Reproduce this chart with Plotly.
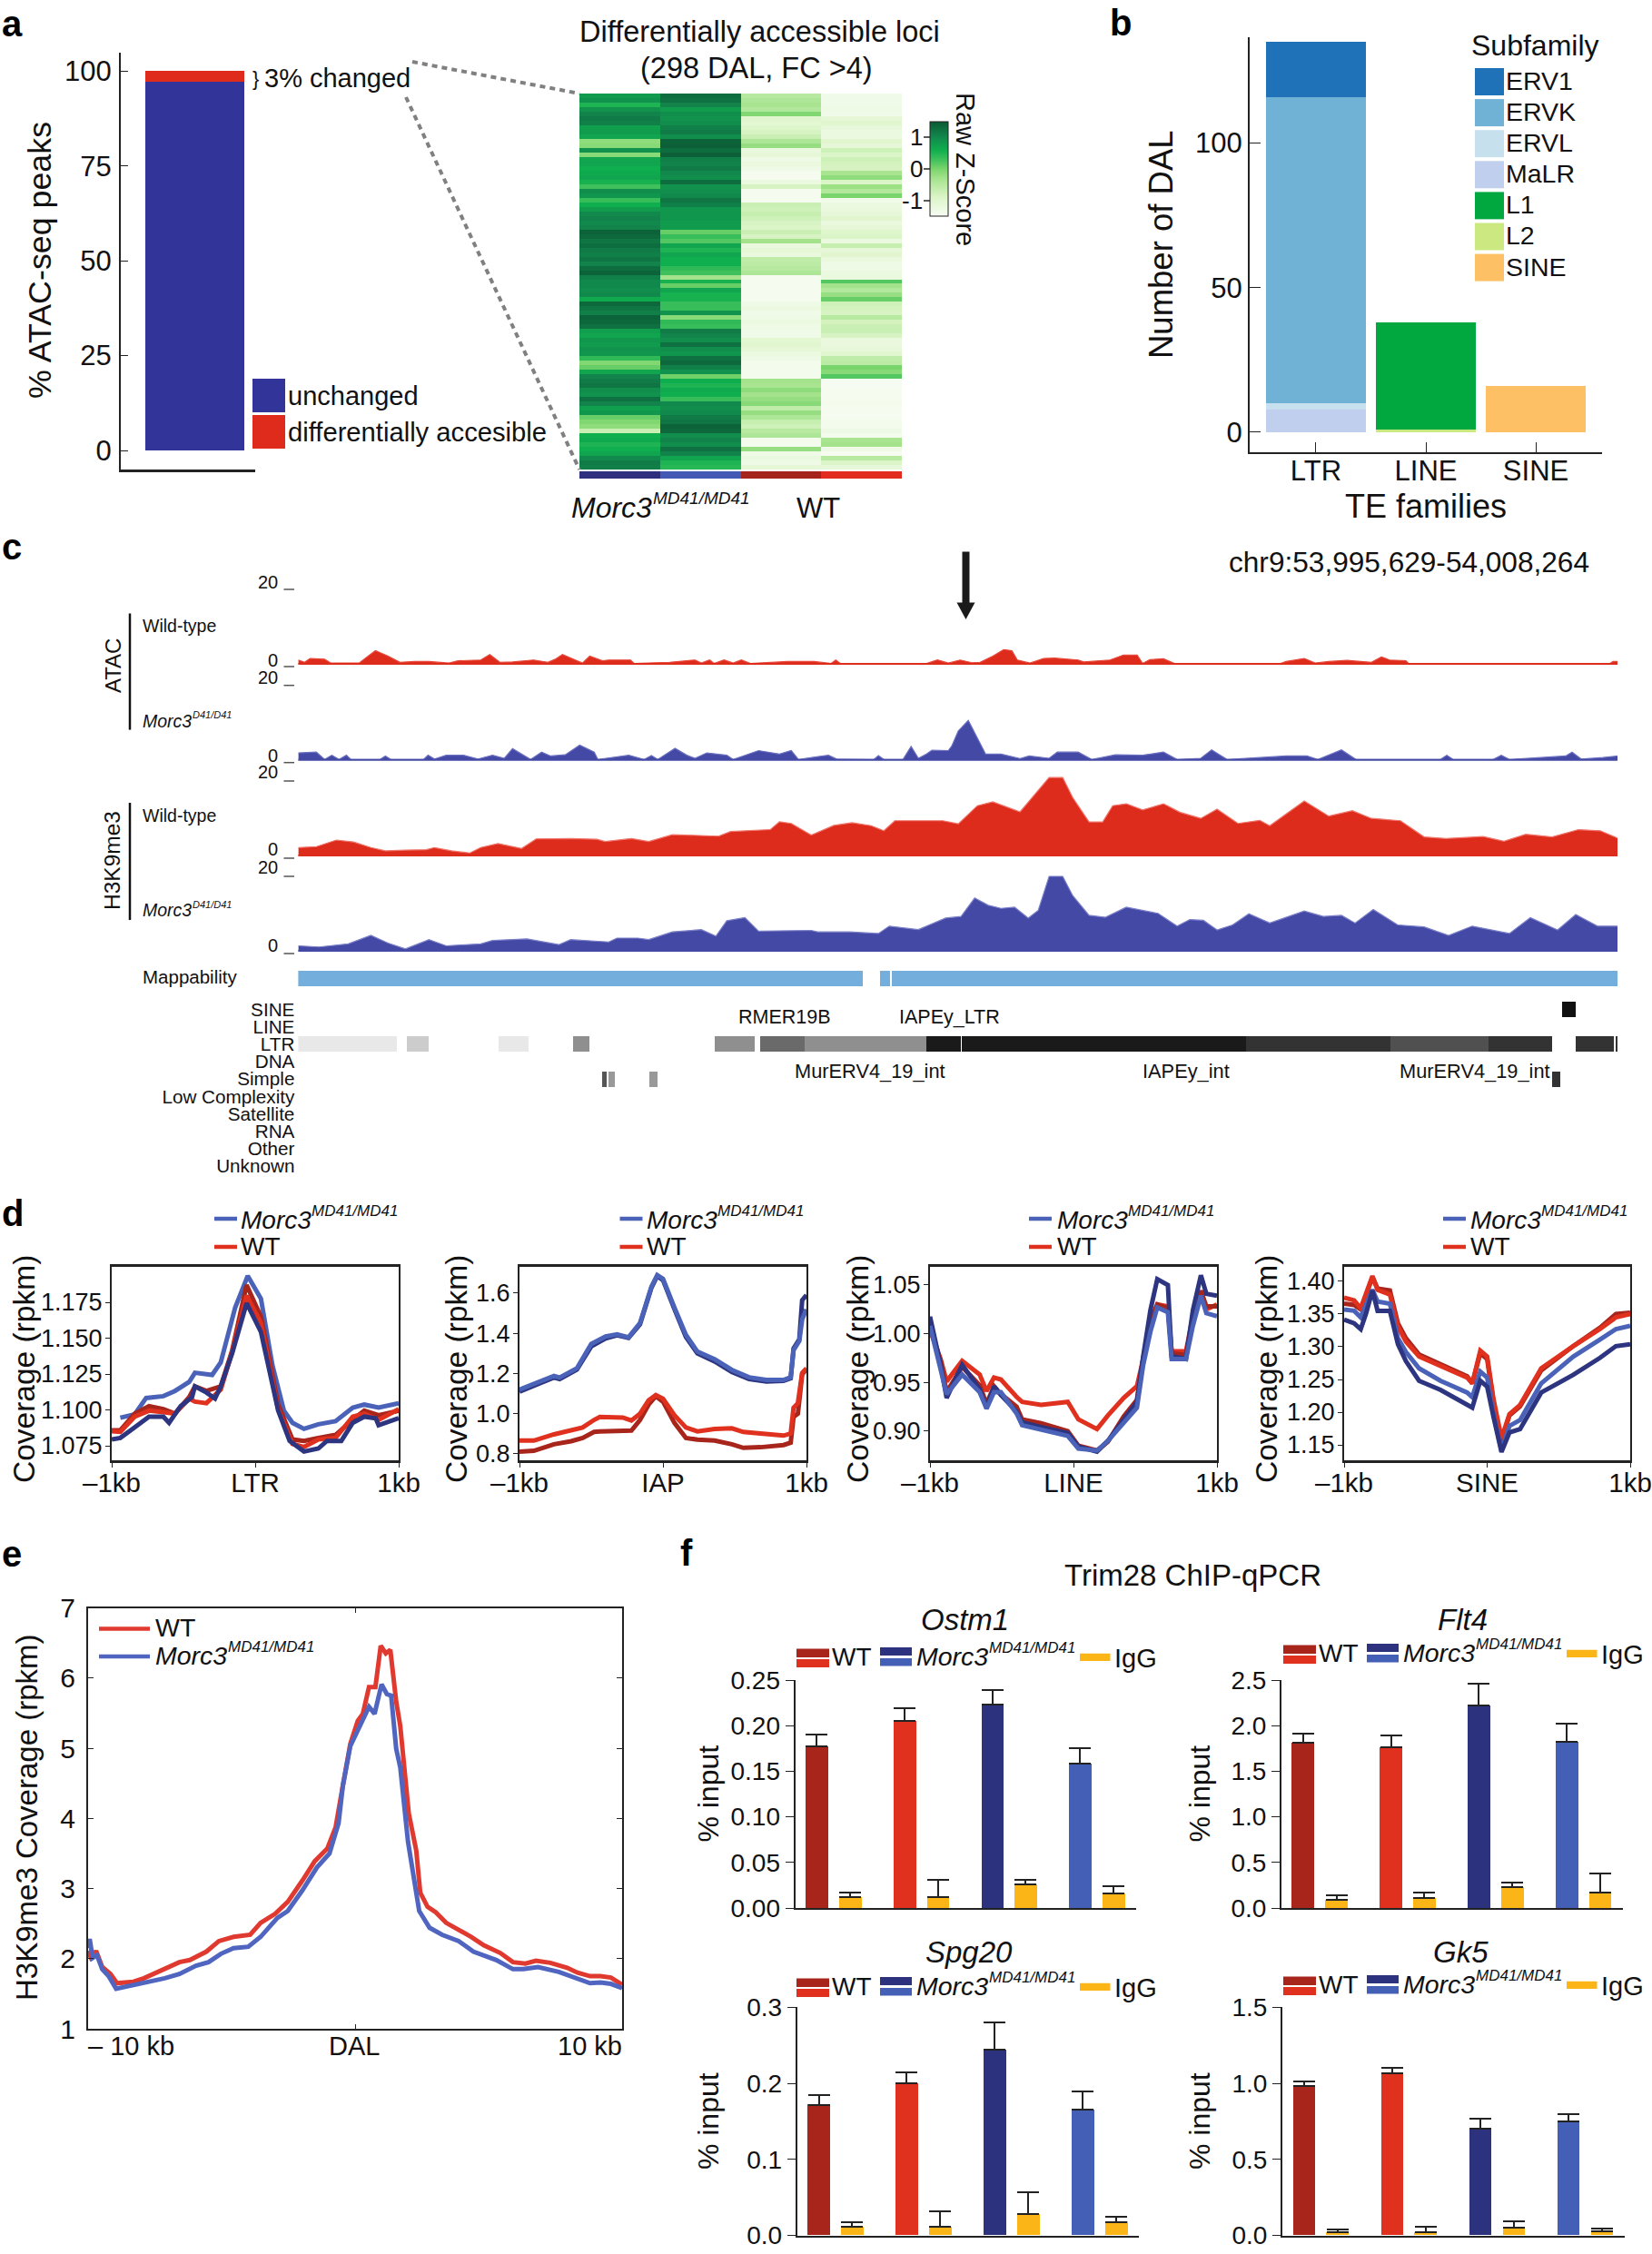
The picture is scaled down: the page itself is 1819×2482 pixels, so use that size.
import plotly.graph_objects as go

W, H = 1819, 2482
FONT = "Liberation Sans, Arial, sans-serif"

# ---------- data: panel a ----------
STACK_SEGMENTS = ["unchanged", "differentially accesible"]
STACK_VALUES = [97.2, 2.8]
HEAT_SAMPLES = ["Morc3 1", "Morc3 2", "WT 1", "WT 2"]
HEAT_MORC_1 = [.8,.9,.5,.9,1.05,1.15,1.1,.75,.8,.7,-.15,-.1,.9,-.1,.7,.7,.6,.65,.7,.55,.3,.95,.85,.35,.6,.8,1.0,1.05,1.0,1.05,1.4,1.35,1.2,1.3,1.15,1.1,1.2,1.05,1.3,1.4,1.1,1.0,
               1.0,.95,1.0,.65,1.35,1.2,1.1,1.4,1.35,1.25,.75,.7,.85,.8,.9,.85,.4,-.05,.1,.7,1.05,1.15,1.2,.95,.9,1.25,1.05,.75,.85,.1,-.05,-.15,-.7,.6,.65,.5,.6,.7,1.0,1.15,1.1]
HEAT_MORC_2 = [1.3,1.25,1.05,.8,.95,.9,.95,1.1,1.15,.95,1.4,1.45,1.3,1.45,1.1,1.05,1.15,1.0,.95,1.3,.9,.95,1.0,1.2,1.1,.85,.85,.85,.8,.8,.1,.35,.2,.7,.5,.7,.6,.6,.4,.3,-.3,.55,
               .1,.7,.55,.55,.35,.35,.9,-.1,.4,.35,1.15,1.05,.95,1.25,.95,.85,1.25,1.35,1.1,.9,.05,.6,.5,.65,.6,.35,1.0,.95,1.0,1.15,1.2,1.4,1.35,.95,1.05,.95,1.25,1.05,.7,.5,.45]
HEAT_WT_1 = [-.5,-.4,-.35,-.45,-.05,-1,-1.05,-.95,-.85,-.7,-.4,-.2,-1.2,-1.1,-1.3,-1.2,-1.3,-1.45,-1.45,-1.25,-.85,-1.45,-1.45,-1.45,-.7,-.75,-.65,-.75,-.85,-.9,-.7,-.85,-.3,-1.2,-1.1,-1.2,-.6,-.55,-.5,-.4,-1.45,-1.45,
             -1.45,-1.45,-1.45,-1.45,-1.3,-1.25,-1.35,-1.3,-1.25,-1.3,-1.35,-1.35,-1.05,-1.0,-1.1,-1.25,-1.3,-1.4,-1.4,-1.4,-1.4,-.3,-.35,-.15,-.3,-.2,-.1,-.6,-.2,-.4,-.65,-.75,-.5,-.4,-1.4,-1.4,-.2,-1.3,-1.25,-1.3,-1.1]
HEAT_WT_2 = [-1.35,-1.35,-1.35,-1.3,-1.35,-1.1,-1.0,-1.15,-1.25,-1.25,-1,-1.1,-.75,-.9,-.75,-.8,-.85,-.35,-.15,-.9,-.25,-.45,0,-1.35,-1.25,-1.2,-1.15,-1,-1.2,-1.1,-.95,-.9,-1.25,-.65,-1.1,-1,-1.2,-1.3,-1.3,-1.25,-1.2,.2,
             -.3,-.45,-.2,.1,-.75,-.8,-.85,-.5,-.8,-.7,-.7,-.85,-1.2,-1.2,-1.15,-1.0,-.6,-.55,0,-.1,.2,-1.5,-1.5,-1.45,-1.45,-1.45,-1.4,-1.45,-1.45,-1.45,-1.4,-1.4,-1.3,-1.4,-.35,-.3,-1.3,-1.45,-.5,-.9,-1.15]

# ---------- data: panel b ----------
TE_FAMILIES = ["LTR", "LINE", "SINE"]
SUBFAMILIES = ["MaLR", "ERVL", "ERVK", "ERV1", "L2", "L1", "SINE"]
SUBFAMILY_FAMILY = ["LTR", "LTR", "LTR", "LTR", "LINE", "LINE", "SINE"]
SUBFAMILY_COUNTS = [7.8, 2.2, 106, 19, 1, 37, 16]
LEGEND_SUBFAMILIES = ["ERV1", "ERVK", "ERVL", "MaLR", "L1", "L2", "SINE"]

# ---------- data: panel c ----------
ATAC_WT_X = [0,7,13,29,36,67,74,85,99,112,128,144,166,176,201,211,222,236,259,275,283,291,307,313,321,335,342,366,370,409,437,444,453,458,469,479,488,498,539,568,587,592,597,672,692,704,716,729,742,751,765,777,786,792,806,821,833,859,865,894,909,924,930,938,953,965,1082,1088,1108,1120,1135,1155,1182,1193,1202,1220,1223,1445,1448,1453]
ATAC_WT_Y = [1,.4,1.4,1.2,.2,.2,1.5,3.4,2,.4,.6,.6,.2,.8,1,2.4,.4,.5,1,.4,1.2,2.4,.8,.2,2,.8,1,1,.1,.4,1,.2,1,.1,1,.2,1,.1,.6,.6,.1,1,.1,.1,.1,1,.2,1,.3,.4,2,3.7,3.4,1,.2,1.4,1.5,1,.5,1,2.3,2.3,.1,1.1,1.3,.1,.1,.6,1.4,.2,.6,.9,.4,1.8,1,.8,.1,.1,.6,.6]
ATAC_KO_X = [0,20,29,37,45,53,58,90,96,102,138,143,150,163,182,198,214,227,236,246,256,268,278,294,310,326,330,364,381,389,396,415,428,437,450,472,479,507,530,543,551,571,584,593,634,639,645,666,675,683,692,698,716,720,727,738,748,757,774,795,805,827,836,859,874,900,930,953,968,994,1006,1023,1088,1111,1123,1149,1165,1258,1265,1272,1316,1325,1334,1363,1396,1403,1413,1437,1453]
ATAC_KO_Y = [1.8,2,.1,1.2,.1,1.2,.1,.1,1,.1,.1,1.2,.2,1.2,1.2,.2,1.2,.4,2.9,1.5,.1,2,1,1.3,3.8,2,.1,1.2,.1,1.1,.1,3,1.2,.4,1.8,1.2,.1,2.4,1.5,2.4,.1,.8,1.2,.2,.1,1.1,.1,.1,3.5,.4,1.5,2.5,2.4,3.7,7.5,10.2,5.8,1.5,1.5,.3,1,.4,2,2,.1,1.3,1.2,2,.1,.4,2.6,.1,1,1,.1,2.6,.1,.1,1.2,.1,.1,1.2,.1,.6,1,2,.2,.6,1]
H3K9_WT_X = [0,20,42,61,80,96,118,141,150,169,189,201,220,246,262,300,329,338,367,386,412,463,476,520,530,543,565,590,610,631,645,657,710,727,748,765,795,812,827,842,853,871,886,897,912,930,953,971,994,1012,1035,1059,1070,1108,1135,1161,1182,1214,1240,1264,1305,1328,1352,1381,1410,1434,1453]
H3K9_WT_Y = [2.05,2.3,4,3.5,2.05,1.2,1.4,1.5,2.05,1.2,.65,2.05,3.1,1.8,4.3,4.4,4.2,3.6,4.4,3.6,5.4,5,6.2,6.7,8.75,8.3,5.3,7.8,8.5,7.7,6.4,9,9,8.2,12.9,13.9,11.3,16.1,20.2,20.2,15,8.7,8.7,12.9,13.4,11.8,13.4,11.2,9.6,12,8.3,9.1,7.7,14.1,10.2,11.6,9.6,9,4.8,4.4,4.9,3.7,5.5,4.8,6.7,6.4,4.5]
H3K9_KO_X = [0,23,55,80,99,118,144,163,201,214,252,287,300,342,351,374,386,412,444,460,472,492,507,565,572,607,639,651,683,713,730,745,760,774,789,804,815,827,842,853,871,889,912,947,968,982,997,1012,1029,1047,1070,1108,1129,1149,1164,1184,1211,1240,1267,1293,1334,1357,1387,1407,1431,1453]
H3K9_KO_Y = [1.3,1,1.8,4,2,.5,2.9,1.3,1.8,2.7,3.1,1.6,2.9,2.3,3.3,3.3,2.9,4.9,5.5,3.8,7.8,8.6,5.1,5.3,4.9,4.9,4.5,6.4,5.5,8.5,8.9,13.7,11.8,11,11.3,8.5,10.5,19.3,19.3,14.3,9.2,8.7,11.3,9.7,6.4,8.1,7.9,5.4,6.7,9.6,7.2,10.3,8.9,9.2,7.2,10.7,6.7,6.2,4,6.4,4.5,8.6,5.4,9.4,6.4,6.4]
MAP_START = [0, 641, 654]
MAP_LENGTH = [622, 11, 799]
REPEAT_ROWS = ["SINE","LINE","LTR","DNA","Simple","Low Complexity","Satellite","RNA","Other","Unknown"]
REPEAT_ROW = ["LTR"]*15 + ["Simple"]*4 + ["SINE"]
REPEAT_START = [0,120,221,303,459,509,558,692,731,1044,1166,1203,1311,1407,1451, 335,342,387,1381, 1392]
REPEAT_LEN = [109,24,33,18,44,49,134,38,313,122,37,108,70,42,2, 5,7,9,9, 15]
REPEAT_GREY = ["#e8e8e8","#cccccc","#e8e8e8","#8f8f8f","#8f8f8f","#6a6a6a","#8f8f8f","#1a1a1a","#1a1a1a","#333333","#333333","#505050","#333333","#333333","#333333","#555555","#999999","#999999","#333333","#111111"]

# ---------- data: panel d ----------
LTR_X_LIGHT = [3,8,12,18,22,27,29,35,38,43,47.4,52,56,60,63,67,72,78,84,88,93,100]
LTR_LIGHT_BLUE = [1.0946,1.0969,1.1083,1.1096,1.1132,1.1195,1.1259,1.1244,1.1332,1.1712,1.1934,1.1775,1.1311,1.0995,1.0910,1.0868,1.0900,1.0921,1.1016,1.1037,1.1016,1.1047]
LTR_X_DARK = [0,3,8,13,18,20,24,28,29,33,36,38,42,47,52,58,62,67,72,75,80,84,88,92,93,100]
LTR_DARK_BLUE = [1.0794,1.0805,1.0879,1.0953,1.0953,1.091,1.1026,1.109,1.1164,1.1121,1.1079,1.1164,1.1396,1.1744,1.1543,1.0995,1.0784,1.071,1.0731,1.0784,1.0784,1.091,1.0953,1.0942,1.0893,1.0942]
LTR_X_RED = [0,3,8,13,18,22,27,29,33,38,42,47,52,58,63,67,72,78,84,88,93,100]
LTR_DARK_RED = [1.0858,1.0858,1.0974,1.1026,1.1005,1.0974,1.109,1.1164,1.1132,1.1164,1.1417,1.187,1.1649,1.1037,1.0794,1.0784,1.0805,1.0826,1.0931,1.0995,1.0963,1.0995]
LTR_RED = [1.0851,1.0847,1.0953,1.0995,1.0984,1.0974,1.1079,1.1058,1.1047,1.1142,1.1406,1.1797,1.1607,1.1005,1.0763,1.0742,1.0794,1.0805,1.0953,1.0974,1.0931,1.1005]
IAP_X_BLUE = [0,5,12,14,20,25,30,34,38,42,46,48,50,54,58,62,68,74,80,86,92,94.5,95.5,97.5,98.5,100]
IAP_LIGHT_BLUE = [1.12,1.147,1.188,1.18,1.226,1.347,1.384,1.395,1.38,1.452,1.633,1.69,1.671,1.528,1.392,1.309,1.271,1.218,1.181,1.168,1.168,1.181,1.316,1.362,1.47,1.52]
IAP_DARK_BLUE = [1.11,1.14,1.18,1.172,1.22,1.335,1.375,1.39,1.377,1.445,1.628,1.685,1.665,1.52,1.382,1.3,1.26,1.208,1.172,1.16,1.163,1.176,1.325,1.37,1.565,1.591]
IAP_X_RED = [0,5,12,18,22,26,28,36,39,42,45,47.5,50,54,58,62,68,74,78,84,92,94.5,95.5,97,98.5,100]
IAP_RED = [.866,.866,.897,.916,.931,.969,.984,.981,.966,1,1.067,1.093,1.075,.992,.931,.912,.924,.927,.909,.901,.891,.901,1.03,1.052,1.203,1.226]
IAP_DARK_RED = [.811,.815,.848,.863,.879,.909,.912,.916,.916,.969,1.045,1.087,1.06,.954,.879,.871,.866,.848,.83,.833,.844,.856,.984,1,1.196,1.223]
LINE_X = [0,3.7,5.8,11.2,17.3,19.7,22.3,24.7,30.2,32.1,38.7,48,51.7,58.2,62,67.5,72.1,74.3,76.8,79.2,82.9,84.2,89.2,91.6,94.4,96.3,100]
LINE_DARK_BLUE = [1.0176,.968,.934,.968,.943,.924,.946,.937,.92,.909,.904,.898,.884,.879,.89,.912,.93,.977,1.024,1.056,1.05,.977,.974,1.024,1.06,1.041,1.039]
LINE_LIGHT_BLUE = [1.008,.965,.938,.958,.94,.923,.94,.94,.918,.906,.901,.895,.882,.88,.89,.909,.924,.968,1.002,1.027,1.022,.974,.974,1.008,1.039,1.021,1.018]
LINE_RED = [1.004,.974,.951,.972,.958,.941,.955,.953,.935,.93,.927,.93,.912,.902,.916,.934,.946,.974,1.011,1.03,1.028,.982,.982,1.018,1.044,1.025,1.03]
LINE_DARK_RED = [1.006,.972,.94,.966,.947,.928,.946,.938,.925,.912,.908,.9,.885,.88,.889,.915,.932,.975,1.013,1.03,1.026,.98,.978,1.016,1.044,1.028,1.028]
SINE_X = [0,3.5,5.8,7.6,9.9,11.7,16,18.8,21.6,26.2,33.7,43,44.8,47.6,50,52.2,55,57.8,61.5,68.9,80.1,89.4,95,100]
SINE_DARK_BLUE = [1.3417,1.336,1.327,1.35,1.386,1.355,1.355,1.304,1.278,1.248,1.234,1.213,1.207,1.248,1.239,1.193,1.139,1.169,1.174,1.23,1.257,1.283,1.301,1.304]
SINE_LIGHT_BLUE = [1.357,1.355,1.345,1.364,1.387,1.369,1.366,1.313,1.292,1.267,1.248,1.23,1.223,1.262,1.253,1.197,1.142,1.179,1.188,1.244,1.285,1.311,1.327,1.332]
SINE_RED = [1.375,1.371,1.359,1.382,1.408,1.387,1.38,1.331,1.308,1.285,1.271,1.253,1.244,1.294,1.285,1.22,1.16,1.197,1.211,1.267,1.301,1.327,1.345,1.35]
SINE_DARK_RED = [1.366,1.364,1.357,1.38,1.406,1.389,1.386,1.336,1.313,1.288,1.274,1.255,1.244,1.29,1.281,1.216,1.156,1.195,1.209,1.264,1.301,1.329,1.35,1.352]

# ---------- data: panel e ----------
E_WT_KB = [-10,-9.89,-9.78,-9.7,-9.47,-9.16,-8.92,-8.3,-7.91,-7.28,-6.58,-6.19,-5.57,-5.1,-4.55,-3.93,-3.54,-2.99,-2.52,-1.98,-1.51,-1.04,-.73,-.49,-.18,.1,.29,.52,.76,.96,1.15,1.32,1.54,1.69,2.01,2.29,2.44,2.71,3.02,3.41,3.88,4.35,4.82,5.44,5.91,6.38,6.77,7.31,7.94,8.33,8.8,9.19,9.58,10]
E_WT = [2.11,2.01,2.05,2.11,1.88,1.78,1.65,1.67,1.72,1.83,1.95,1.98,2.10,2.25,2.31,2.34,2.51,2.64,2.81,3.11,3.39,3.57,3.87,4.40,5.06,5.39,5.49,5.87,5.87,6.46,6.35,6.40,5.66,5.32,4.07,3.54,2.94,2.74,2.66,2.51,2.41,2.31,2.19,2.08,1.95,1.93,1.97,1.94,1.87,1.80,1.75,1.75,1.73,1.63]
E_KO_KB = [-10,-9.94,-9.83,-9.67,-9.47,-9.23,-8.95,-8.3,-7.67,-7.13,-6.58,-5.96,-5.49,-5.02,-4.55,-4,-3.54,-2.91,-2.52,-1.98,-1.43,-.96,-.62,-.46,-.18,.16,.52,.73,.99,1.19,1.35,1.54,1.69,1.98,2.24,2.4,2.79,3.26,3.88,4.43,5.29,5.91,6.3,6.85,7.63,8.17,8.8,9.19,9.58,10]
E_KO = [2.15,2.28,2.01,2.05,1.85,1.75,1.57,1.62,1.68,1.72,1.78,1.90,1.95,2.07,2.15,2.17,2.31,2.58,2.68,2.97,3.30,3.50,3.93,4.46,5.03,5.32,5.59,5.49,5.91,5.77,5.75,4.99,4.73,3.67,3.07,2.68,2.44,2.34,2.25,2.10,1.98,1.85,1.85,1.88,1.81,1.74,1.65,1.66,1.64,1.58]

# ---------- data: panel f ----------
GENES = ["Ostm1", "Flt4", "Spg20", "Gk5"]
OSTM1_MEAN = [.177,.0117,.2056,.012,.223,.026,.158,.016]
OSTM1_TOP = [.19,.0168,.219,.031,.239,.031,.175,.024]
FLT4_MEAN = [1.81,.087,1.765,.107,2.22,.23,1.82,.168]
FLT4_TOP = [1.91,.138,1.89,.168,2.46,.28,2.02,.38]
SPG20_MEAN = [.172,.011,.2,.011,.244,.028,.1655,.018]
SPG20_TOP = [.185,.017,.215,.032,.28,.057,.189,.024]
GK5_MEAN = [.98,.02,1.065,.02,.70,.05,.75,.03]
GK5_TOP = [1.01,.04,1.1,.055,.767,.095,.795,.046]

# ---------- colours ----------
C_BLUE, C_DBLUE, C_RED, C_DRED, C_GOLD = "#4a62b8", "#2d3580", "#e0301e", "#a8251c", "#fbb517"
SUB_COLORS = {"ERV1":"#1f71b8","ERVK":"#70b2d6","ERVL":"#c6e0ee","MaLR":"#c0cfee","L1":"#00a83f","L2":"#cce880","SINE":"#fec064"}

fig = go.Figure()
shapes, anns = [], []
axis_n = [0]

def dx(a, b): return [a / W, b / W]
def dy(top, bot): return [1 - bot / H, 1 - top / H]
def px(x): return x / W
def py(y): return 1 - y / H

def axes(xd, yd, xkw=None, ykw=None):
    axis_n[0] += 1
    n = axis_n[0]
    sfx = "" if n == 1 else str(n)
    xa = dict(domain=xd, anchor="y" + sfx, showgrid=False, zeroline=False)
    ya = dict(domain=yd, anchor="x" + sfx, showgrid=False, zeroline=False)
    xa.update(xkw or {}); ya.update(ykw or {})
    fig.update_layout(**{"xaxis" + sfx: xa, "yaxis" + sfx: ya})
    return "x" + sfx, "y" + sfx

def text(x, y, s, size, anchor="left", angle=0, color="#111111", weight=None, yanchor="middle"):
    f = dict(size=size, color=color, family=FONT)
    if weight: f["weight"] = weight
    anns.append(dict(x=px(x), y=py(y), xref="paper", yref="paper", text=s, showarrow=False,
                     xanchor=anchor, yanchor=yanchor, textangle=angle, font=f, align="left",
                     borderpad=0, borderwidth=0))

def rect(x0, y0, x1, y1, color):
    shapes.append(dict(type="rect", xref="paper", yref="paper", x0=px(x0), x1=px(x1), y0=py(y0), y1=py(y1),
                       fillcolor=color, line=dict(width=0)))

def seg(x0, y0, x1, y1, color="#222222", width=2, dash=None):
    ln = dict(color=color, width=width)
    if dash: ln["dash"] = dash
    shapes.append(dict(type="line", xref="paper", yref="paper", x0=px(x0), x1=px(x1), y0=py(y0), y1=py(y1), line=ln))

def morc(x, y, size, sup, suffix="MD41/MD41"):
    text(x, y, "<i>Morc3</i>", size)
    text(x + 2.8 * size, y - 0.33 * size, f"<i>{suffix}</i>", sup)

for lab, x, y in [("a", 2, 26), ("b", 1222, 25), ("c", 2, 602), ("d", 2, 1336), ("e", 2, 1711), ("f", 749, 1710)]:
    text(x, y, lab, 40, weight=700, color="#000000")

# ---------- panel a: stacked bar ----------
tick_a = dict(size=31, color="#111111", family=FONT)
xa, ya = axes(dx(133, 281), dy(58, 517),
              dict(range=[0, 1], showticklabels=False, ticks="", showline=True, linecolor="#222", linewidth=2.5),
              dict(range=[-5.03, 104.9], tickvals=[0, 25, 50, 75, 100], ticks="inside", ticklen=8, tickcolor="#222",
                   showline=True, linecolor="#222", linewidth=2, tickfont=tick_a, ticklabelstandoff=2))
fig.add_trace(go.Bar(x=[.551], y=[STACK_VALUES[0]], width=.736, marker=dict(color="#33349a", line=dict(width=0)), xaxis=xa, yaxis=ya, showlegend=False))
fig.add_trace(go.Bar(x=[.551], y=[STACK_VALUES[1]], base=[STACK_VALUES[0]], width=.736, marker=dict(color="#df2b1c", line=dict(width=0)), xaxis=xa, yaxis=ya, showlegend=False))
text(44, 287, "% ATAC-seq peaks", 35.8, "center", -90)
text(278, 86, "}", 22, "left")
text(291, 86, "3% changed", 29)
rect(278, 417, 314, 454, "#33349a"); text(317, 436, STACK_SEGMENTS[0], 29)
rect(278, 457, 314, 494, "#df2b1c"); text(317, 476, STACK_SEGMENTS[1], 29.2)
seg(454, 68, 638, 103, "#808080", 4, "6px,5px")
seg(447, 107, 638, 517, "#808080", 4, "6px,5px")

# heatmap
xh, yh = axes(dx(638, 993), dy(103, 517), dict(visible=False), dict(visible=False, autorange="reversed"))
heat_z = [list(r) for r in zip(HEAT_MORC_1, HEAT_MORC_2, HEAT_WT_1, HEAT_WT_2)]
fig.add_trace(go.Heatmap(z=heat_z, x=HEAT_SAMPLES, zmin=-1.5, zmax=1.5, xaxis=xh, yaxis=yh,
    colorscale=[[0, "#f7fcf3"], [.2, "#dcf5c8"], [.4, "#a4e38c"], [.5, "#7ad46c"], [.6, "#3fc05c"], [.7, "#0fae4e"], [.84, "#12874c"], [1, "#0b5a34"]],
    colorbar=dict(x=1024 / W, xanchor="left", y=py(186), yanchor="middle", lenmode="pixels", len=104, thickness=20,
                  outlinewidth=1, outlinecolor="#222", tickvals=[-1, 0, 1], ticks="", showticklabels=False, xpad=0, ypad=0)))
for x0, x1, c in [(638, 727, "#2e2f7e"), (727, 816, "#4359b4"), (816, 904, "#a5231b"), (904, 993, "#e12b1f")]:
    rect(x0, 519, x1, 527, c)
for y, s in [(151, "1"), (186, "0"), (221, "-1")]:
    seg(1017, y, 1024, y, "#222", 1.5)
    text(1016, y, s, 26, "right")
text(836, 35, "Differentially accessible loci", 32.5, "center")
text(833, 75, "(298 DAL, FC &gt;4)", 32.5, "center")
text(1063, 186, "Raw Z-Score", 29, "center", 90)
morc(629, 559, 32, 19)
text(901, 559, "WT", 31, "center")

# ---------- panel b ----------
xb, yb = axes(dx(1376, 1764), dy(41, 497.5),
              dict(range=[-.603, 2.603], tickvals=[0, 1, 2], ticktext=TE_FAMILIES, ticks="inside", ticklen=11, tickcolor="#222",
                   showline=True, linecolor="#222", linewidth=2, tickfont=dict(size=31, color="#111", family=FONT), ticklabelstandoff=-8),
              dict(range=[-6.8, 136.6], tickvals=[0, 50, 100], ticks="inside", ticklen=12, tickcolor="#222",
                   showline=True, linecolor="#222", linewidth=2, tickfont=dict(size=31, color="#111", family=FONT)))
running = {f: 0 for f in TE_FAMILIES}
for name, fam, val in zip(SUBFAMILIES, SUBFAMILY_FAMILY, SUBFAMILY_COUNTS):
    fig.add_trace(go.Bar(x=[TE_FAMILIES.index(fam)], y=[val], base=[running[fam]], width=.91, name=name,
                         marker=dict(color=SUB_COLORS[name], line=dict(width=0)), xaxis=xb, yaxis=yb, showlegend=False))
    running[fam] += val
text(1278, 269, "Number of DAL", 36.5, "center", -90)
text(1570, 557, "TE families", 36, "center")
text(1620, 50, "Subfamily", 32)
for i, name in enumerate(LEGEND_SUBFAMILIES):
    rect(1624, 75 + i * 34.1, 1656, 105 + i * 34.1, SUB_COLORS[name])
    text(1658, 89 + i * 34.1, name, 28.5)

# ---------- panel c ----------
TRACKS = [(731, ATAC_WT_X, ATAC_WT_Y, "#dd2c1b", "#e8483a", 90.4, 4),
          (836.7, ATAC_KO_X, ATAC_KO_Y, "#4349a5", "#6a6fc0", 91, 5),
          (942, H3K9_WT_X, H3K9_WT_Y, "#dd2c1b", "#f0766c", 92, 7),
          (1047, H3K9_KO_X, H3K9_KO_Y, "#4349a5", "#7c80c8", 92.3, 6.5)]
for base, xs, ys, col, edge, up20, up0 in TRACKS:
    xt, yt = axes(dx(328.4, 1781), dy(base - 93.5, base), dict(range=[0, 1453], visible=False), dict(range=[0, 22], visible=False))
    fig.add_trace(go.Scatter(x=xs, y=ys, mode="lines", fill="tozeroy", fillcolor=col, line=dict(color=edge, width=1.2),
                             xaxis=xt, yaxis=yt, showlegend=False, cliponaxis=False))
    seg(328.4, base, 1781, base, col, 2)
    seg(312.5, base - 82, 324, base - 82, "#555", 1.5)
    seg(312.5, base + 3, 324, base + 3, "#555", 1.5)
    text(306, base - up20, "20", 20, "right")
    text(306, base - up0, "0", 20, "right")

xm, ym = axes(dx(328.4, 1781), dy(1069, 1086), dict(range=[0, 1453], visible=False), dict(range=[0, 1], visible=False))
fig.add_trace(go.Bar(y=[.5] * 3, x=MAP_LENGTH, base=MAP_START, orientation="h", width=1, marker=dict(color="#74aedc", line=dict(width=0)), xaxis=xm, yaxis=ym, showlegend=False))
xr, yr = axes(dx(328.4, 1781), dy(1102, 1293.6), dict(range=[0, 1453], visible=False),
              dict(type="category", categoryorder="array", categoryarray=REPEAT_ROWS, tickvals=REPEAT_ROWS, range=[9.5, -.5],
                   showline=False, ticks="", tickfont=dict(size=20.7, color="#111", family=FONT), ticklabelstandoff=3))
fig.add_trace(go.Bar(y=REPEAT_ROW, x=REPEAT_LEN, base=REPEAT_START, orientation="h", width=.88,
                     marker=dict(color=REPEAT_GREY, line=dict(width=0)), xaxis=xr, yaxis=yr, showlegend=False))
text(864, 1119.5, "RMER19B", 21.5, "center")
text(1045, 1119.5, "IAPEy_LTR", 21.5, "center")
text(958, 1179, "MurERV4_19_int", 21.8, "center")
text(1306, 1179, "IAPEy_int", 21.8, "center")
text(1624, 1179, "MurERV4_19_int", 21.8, "center")
text(1551, 619, "chr9:53,995,629-54,008,264", 31.6, "center")
text(124, 733, "ATAC", 24, "center", -90)
text(124, 948, "H3K9me3", 24.5, "center", -90)
seg(143, 675.5, 143, 803.6, "#111", 2.5)
seg(143, 884, 143, 1013, "#111", 2.5)
for y, s in [(689, "Wild-type"), (898, "Wild-type")]:
    text(157, y, s, 19.5)
for y in (793.5, 1002):
    morc(157, y, 19.5, 11, "D41/D41")
text(157, 1075, "Mappability", 20.5)
seg(1063.5, 607.5, 1063.5, 665, "#1a1a1a", 8)
shapes.append(dict(type="path", xref="paper", yref="paper",
                   path=f"M {px(1053.5)} {py(663.5)} L {px(1073.5)} {py(663.5)} L {px(1063.5)} {py(682)} Z",
                   fillcolor="#1a1a1a", line=dict(width=0)))

# ---------- panel d ----------
D_PANELS = [
    (123, 439, "LTR", [1.0649, 1.1997], [1.075, 1.1, 1.125, 1.15, 1.175], "%.3f", 26, 236, 265,
     [(LTR_X_LIGHT, LTR_LIGHT_BLUE, C_BLUE), (LTR_X_RED, LTR_DARK_RED, C_DRED), (LTR_X_RED, LTR_RED, C_RED), (LTR_X_DARK, LTR_DARK_BLUE, C_DBLUE)]),
    (572, 888, "IAP", [.768, 1.731], [.8, 1.0, 1.2, 1.4, 1.6], "%.1f", 502, 682.5, 712,
     [(IAP_X_BLUE, IAP_DARK_BLUE, C_DBLUE), (IAP_X_BLUE, IAP_LIGHT_BLUE, C_BLUE), (IAP_X_RED, IAP_DARK_RED, C_DRED), (IAP_X_RED, IAP_RED, C_RED)]),
    (1024, 1340, "LINE", [.870, 1.0686], [.90, .95, 1.00, 1.05], "%.2f", 944, 1133, 1164,
     [(LINE_X, LINE_RED, C_RED), (LINE_X, LINE_DARK_RED, C_DRED), (LINE_X, LINE_DARK_BLUE, C_DBLUE), (LINE_X, LINE_LIGHT_BLUE, C_BLUE)]),
    (1480, 1795, "SINE", [1.1264, 1.4222], [1.15, 1.2, 1.25, 1.3, 1.35, 1.4], "%.2f", 1394, 1589, 1619,
     [(SINE_X, SINE_DARK_RED, C_DRED), (SINE_X, SINE_RED, C_RED), (SINE_X, SINE_LIGHT_BLUE, C_BLUE), (SINE_X, SINE_DARK_BLUE, C_DBLUE)]),
]
for x0, x1, lab, rng, tv, fmt, title_x, leg_x, text_x, series in D_PANELS:
    xd, yd = axes(dx(x0, x1), dy(1395, 1608),
                  dict(range=[0, 100], tickvals=[0, 50, 100], ticktext=["–1kb", lab, "1kb"], ticks="outside", ticklen=5, tickcolor="#222",
                       showline=True, linecolor="#222", linewidth=2.5, mirror=True, tickfont=dict(size=29.5, color="#111", family=FONT), ticklabelstandoff=-8),
                  dict(range=rng, tickvals=tv, ticktext=[fmt % v for v in tv], ticks="outside", ticklen=5, tickcolor="#222",
                       showline=True, linecolor="#222", linewidth=2, mirror=True, tickfont=dict(size=27, color="#111", family=FONT), ticklabelstandoff=-2))
    for xs, ys, col in series:
        fig.add_trace(go.Scatter(x=xs, y=ys, mode="lines", line=dict(color=col, width=5), xaxis=xd, yaxis=yd, showlegend=False))
    text(title_x, 1508, "Coverage (rpkm)", 33.5, "center", -90)
    seg(leg_x, 1342, leg_x + 25, 1342, C_BLUE, 4.5)
    seg(leg_x, 1373, leg_x + 25, 1373, C_RED, 4.5)
    morc(text_x, 1343, 28, 17)
    text(text_x, 1372, "WT", 28)

# ---------- panel e ----------
xe, ye = axes(dx(97, 685), dy(1770.5, 2234),
              dict(range=[-10, 10], tickvals=[0], ticks="inside", ticklen=5, tickcolor="#222", showticklabels=False,
                   showline=True, linecolor="#222", linewidth=2, mirror="ticks"),
              dict(range=[1, 7], tickvals=[1, 2, 3, 4, 5, 6, 7], ticks="inside", ticklen=6, tickcolor="#222",
                   showline=True, linecolor="#222", linewidth=2, mirror="ticks", tickfont=dict(size=30, color="#111", family=FONT), ticklabelstandoff=6))
fig.add_trace(go.Scatter(x=E_WT_KB, y=E_WT, mode="lines", line=dict(color="#e03a30", width=5), xaxis=xe, yaxis=ye, showlegend=False))
fig.add_trace(go.Scatter(x=E_KO_KB, y=E_KO, mode="lines", line=dict(color="#5065c0", width=5), xaxis=xe, yaxis=ye, showlegend=False))
text(29, 2002, "H3K9me3 Coverage (rpkm)", 33, "center", -90)
text(97, 2253, "– 10 kb", 29, "left")
text(390, 2253, "DAL", 29, "center")
text(685, 2253, "10 kb", 29, "right")
seg(109, 1793.6, 165, 1793.6, "#e03a30", 4.5)
seg(109, 1824, 165, 1824, "#5065c0", 4.5)
text(171, 1792, "WT", 28.5)
morc(171, 1823, 28.5, 17)

# ---------- panel f ----------
BAR_X = [0, .38, 1, 1.38, 2, 2.38, 3, 3.38]
BAR_COLORS = [C_DRED, C_GOLD, C_RED, C_GOLD, "#2d327f", C_GOLD, "#4460b6", C_GOLD]
F_PANELS = [
    (875.6, 1251, 1850, 2101, .25, [0, .05, .1, .15, .2, .25], "%.2f", OSTM1_MEAN, OSTM1_TOP, "Ostm1", 1062.5, 1783, 779.6, 0, 0),
    (1411, 1787, 1850, 2101, 2.5, [0, .5, 1, 1.5, 2, 2.5], "%.1f", FLT4_MEAN, FLT4_TOP, "Flt4", 1610, 1783, 1320.5, 536, -4),
    (877.7, 1254, 2210.4, 2461.6, .3, [0, .1, .2, .3], "%.1f", SPG20_MEAN, SPG20_TOP, "Spg20", 1067, 2149.6, 779.6, 0, 363),
    (1412, 1789, 2210.4, 2461.6, 1.5, [0, .5, 1, 1.5], "%.1f", GK5_MEAN, GK5_TOP, "Gk5", 1608.6, 2149.6, 1320.5, 536, 361),
]
for x0, x1, top, bot, ymax, tv, fmt, mean, tops, gene, gx, gy, tx, lx, ly in F_PANELS:
    xf, yf = axes(dx(x0, x1), dy(top, bot),
                  dict(range=[-.246, 3.638], showticklabels=False, ticks="", showline=True, linecolor="#222", linewidth=2),
                  dict(range=[0, ymax], tickvals=tv, ticktext=[fmt % v for v in tv], ticks="outside", ticklen=9, tickcolor="#222",
                       showline=True, linecolor="#222", linewidth=2, tickfont=dict(size=28, color="#111", family=FONT)))
    err = [round(t - m, 4) for t, m in zip(tops, mean)]
    fig.add_trace(go.Bar(x=BAR_X, y=mean, width=.255, marker=dict(color=BAR_COLORS, line=dict(width=0)),
                         error_y=dict(type="data", symmetric=False, array=err, arrayminus=[0] * 8, color="#222", thickness=2, width=12),
                         xaxis=xf, yaxis=yf, showlegend=False))
    text(gx, gy, f"<i>{gene}</i>", 33, "center")
    text(tx, (top + bot) / 2 - 0.5, "% input", 32, "center", -90)
    rect(877 + lx, 1815.5 + ly, 913 + lx, 1825 + ly, C_DRED)
    rect(877 + lx, 1827 + ly, 913 + lx, 1836 + ly, C_RED)
    text(916 + lx, 1824 + ly, "WT", 28)
    rect(969 + lx, 1814 + ly, 1004 + lx, 1823 + ly, "#2d327f")
    rect(969 + lx, 1826 + ly, 1004 + lx, 1834.5 + ly, "#4460b6")
    morc(1009.4 + lx, 1824 + ly, 28.5, 17)
    rect(1189 + lx, 1820.7 + ly, 1222.5 + lx, 1829 + ly, C_GOLD)
    text(1226.7 + lx, 1826 + ly, "IgG", 29)
text(1313.5, 1734, "Trim28 ChIP-qPCR", 33, "center")

fig.update_layout(width=W, height=H, autosize=False,
                  margin=dict(l=0, r=0, t=0, b=0, pad=0, autoexpand=False), paper_bgcolor="white", plot_bgcolor="rgba(0,0,0,0)",
                  barmode="overlay", bargap=0, showlegend=False, shapes=shapes, annotations=anns, font=dict(family=FONT, color="#111"))
fig.write_html("out.html", post_script="document.body.style.margin='0';", config={"displayModeBar": False})
